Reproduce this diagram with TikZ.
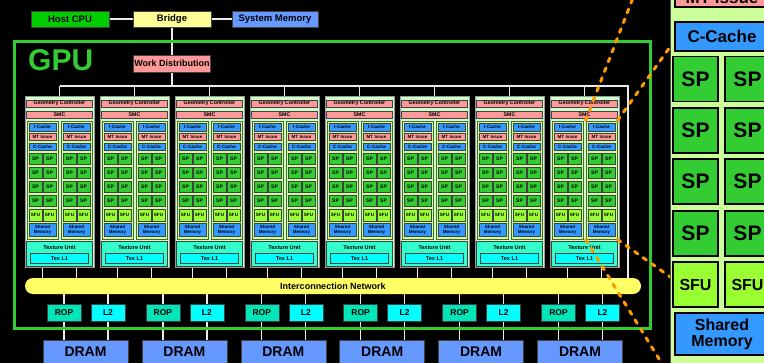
\documentclass[tikz,border=0pt]{standalone}
\usepackage{fontspec}
\setmainfont{Liberation Sans}
\usetikzlibrary{calc}
\newcommand\myfs[2]{\fontsize{#1}{#2}\selectfont}
\definecolor{gpugreen}{HTML}{33CC33}
\definecolor{hostgreen}{HTML}{00CC00}
\definecolor{bridgey}{HTML}{FFFF99}
\definecolor{memblue}{HTML}{6699FF}
\definecolor{pinkc}{HTML}{FF9999}
\definecolor{cblue}{HTML}{3399FF}
\definecolor{spgreen}{HTML}{33CC33}
\definecolor{sfugreen}{HTML}{99FF33}
\definecolor{clusterbg}{HTML}{CCFFCC}
\definecolor{smbg}{HTML}{CCFF99}
\definecolor{smborder}{HTML}{4D6633}
\definecolor{texc}{HTML}{33FFCC}
\definecolor{texl}{HTML}{00FFFF}
\definecolor{ropc}{HTML}{00E6B8}
\definecolor{netc}{HTML}{FFFF66}
\definecolor{dashor}{HTML}{FF9900}
\pgfdeclarelayer{back}
\pgfdeclarelayer{bg}
\pgfsetlayers{back,bg,main}
\tikzset{
  bx/.style={draw=black!75, line width=0.45pt, inner sep=0pt, align=center, text=black},
  topbox/.style={bx, line width=0.6pt, minimum height=16, font=\myfs{9.5}{11}\bfseries},
  clus/.style={draw=black!40, fill=clusterbg, line width=0.8pt, inner sep=0pt},
  smbox/.style={draw=smborder, fill=smbg, line width=0.8pt, inner sep=0pt, minimum width=31, minimum height=118},
  tiny/.style={bx, font=\myfs{4.6}{5}\bfseries},
  wire/.style={draw=white!92!black, line width=1.3pt},
  odash/.style={draw=dashor, line width=3pt, line cap=round, dash pattern=on 4pt off 6.5pt},
  pbx/.style={draw=black, line width=1.8pt, inner sep=0pt, align=center, text=black},
  membox/.style={bx, line width=0.6pt, minimum width=34, minimum height=17, font=\myfs{8.5}{10}\bfseries}
}
\begin{document}
\begin{tikzpicture}[x=1pt,y=-1pt]
\useasboundingbox (0,0) rectangle (764,362);
\begin{pgfonlayer}{back}
\fill[black] (-5,-20) rectangle (780,380);
\end{pgfonlayer}

% top row
\node[topbox, fill=hostgreen, minimum width=78] (host) at (70,19) {Host CPU};
\node[topbox, fill=bridgey, minimum width=78] (bridge) at (172,19) {Bridge};
\node[topbox, fill=memblue, minimum width=86] (sysmem) at (275,19) {System Memory};

% GPU frame
\node[draw=gpugreen, line width=3pt, minimum width=636, minimum height=287, inner sep=0pt] (gpu) at (332,184.5) {};
\node[text=gpugreen, font=\myfs{30}{32}\bfseries, anchor=base west, inner sep=0pt] (gpulbl) at (28,70) {GPU};

\node[topbox, fill=pinkc, minimum width=77, minimum height=17, font=\myfs{9}{10}\bfseries] (wd) at (172,63.5) {Work Distribution};

% interconnection network
\node[fill=netc, rounded corners=8pt, minimum width=616, minimum height=16, inner sep=0pt, font=\myfs{9}{10}\bfseries] (net) at (333,286) {Interconnection Network};

% memory partitions
\foreach \j in {0,...,5}{
  \pgfmathsetmacro\xr{47+98.9*\j}
  \node[membox, fill=ropc] (rop\j) at (\xr+17,312.5) {ROP};
  \node[membox, fill=texl] (ltwo\j) at (\xr+61,312.5) {L2};
  \node[bx, line width=0.6pt, fill=memblue, minimum width=85, minimum height=24, font=\myfs{14}{16}\bfseries] (dram\j) at (\xr+38.5,352) {DRAM};
}

% clusters
\foreach \i in {0,...,7}{
  \pgfmathsetmacro\xo{25+75*\i}
  \node[clus, minimum width=69, minimum height=171] (cl\i) at (\xo+34.5,181.5) {};
  \node[bx, fill=pinkc, minimum width=66, minimum height=7, font=\myfs{5.3}{6}\bfseries] (gc\i) at (\xo+34.5,103.5) {Geometry Controller};
  \node[bx, fill=pinkc, minimum width=66, minimum height=7, font=\myfs{5.3}{6}\bfseries] (smc\i) at (\xo+34.5,114.5) {SMC};
  \foreach \s/\off in {L/17.5,R/51.5}{
    \pgfmathsetmacro\sc{\xo+\off}
    \node[smbox] (sm\s\i) at (\sc,180) {};
    \node[tiny, fill=cblue, minimum width=27, minimum height=7.5] (ic\s\i) at (\sc,127) {I-Cache};
    \node[tiny, fill=pinkc, minimum width=27, minimum height=7.5] (mt\s\i) at (\sc,136.8) {MT Issue};
    \node[tiny, fill=cblue, minimum width=27, minimum height=7.5] (cc\s\i) at (\sc,146.6) {C-Cache};
    \foreach \r in {0,...,3}{
      \node[tiny, fill=spgreen, minimum width=13, minimum height=11.5, font=\myfs{5}{6}\bfseries] (sp\s\i a\r) at (\sc-7,158.5+14.1*\r) {SP};
      \node[tiny, fill=spgreen, minimum width=13, minimum height=11.5, font=\myfs{5}{6}\bfseries] (sp\s\i b\r) at (\sc+7,158.5+14.1*\r) {SP};
    }
    \node[tiny, fill=sfugreen, minimum width=13, minimum height=11.5] (sfu\s\i a) at (\sc-7,215) {SFU};
    \node[tiny, fill=sfugreen, minimum width=13, minimum height=11.5] (sfu\s\i b) at (\sc+7,215) {SFU};
    \node[tiny, fill=cblue, minimum width=27, minimum height=13, font=\myfs{4.5}{4.8}\bfseries] (shm\s\i) at (\sc,229.6) {Shared\\Memory};
  }
  \node[bx, fill=texc, minimum width=66, minimum height=25] (tu\i) at (\xo+34.5,253.5) {};
  \node[font=\myfs{5.6}{6}\bfseries, inner sep=0pt] (tut\i) at (\xo+34.5,247) {Texture Unit};
  \node[bx, fill=texl, minimum width=58, minimum height=10, font=\myfs{5.6}{6}\bfseries] (tl\i) at (\xo+34.5,258.5) {Tex L1};
}

% connectors
\coordinate (busL) at (59.5,86);
\coordinate (busR) at (628,86);
\begin{pgfonlayer}{bg}
\draw[wire] (host) -- (bridge);
\draw[wire] (bridge) -- (sysmem);
\draw[wire] (bridge) -- (wd);
\draw[wire] (wd.south) -- (wd.south |- busL);
\draw[wire] (busL) -- (busR) -- (busR |- net.north);
\foreach \i in {0,...,7}{
  \draw[wire] (cl\i.north) -- (cl\i.north |- busL);
  \draw[wire] (smL\i.south |- cl\i.south) -- (smL\i.south |- net.north);
  \draw[wire] (smR\i.south |- cl\i.south) -- (smR\i.south |- net.north);
}
\foreach \j in {0,...,5}{
  \draw[wire] (rop\j.center |- net.south) -- (rop\j.center |- dram\j.north);
  \draw[wire] (ltwo\j.center |- net.south) -- (ltwo\j.center |- dram\j.north);
}
\end{pgfonlayer}

% zoom lines
\coordinate (o1) at (636,-10);
\coordinate (o2) at (685,26);
\coordinate (o3) at (672,380);
\coordinate (o4) at (700,298);
\draw[odash] (smR7.north west) -- (o1);
\draw[odash] (smR7.north east) -- (o2);
\draw[odash] (smR7.south west) -- (o3);
\draw[odash] (smR7.south east) -- (o4);

% enlarged SM panel
\node[fill=smbg, draw=black!70, line width=1pt, minimum width=110, minimum height=390, inner sep=0pt, anchor=north west] (panel) at (670,-15) {};
\node[pbx, fill=pinkc, minimum width=94, minimum height=18, font=\myfs{17}{18}\bfseries] (bmt) at (722,-2) {MT Issue};
\node[pbx, fill=cblue, minimum width=94, minimum height=29, font=\myfs{17}{18}\bfseries] (bcc) at (722,36.5) {C-Cache};
\foreach \r/\yy in {0/79,1/130.5,2/181.5,3/233.5}{
  \node[pbx, fill=spgreen, minimum width=45, minimum height=45, font=\myfs{21}{22}\bfseries] (bspa\r) at (695.5,\yy) {SP};
  \node[pbx, fill=spgreen, minimum width=45, minimum height=45, font=\myfs{21}{22}\bfseries] (bspb\r) at (747.5,\yy) {SP};
}
\node[pbx, fill=sfugreen, minimum width=45, minimum height=45, font=\myfs{16}{18}\bfseries] (bsfua) at (695.5,284.5) {SFU};
\node[pbx, fill=sfugreen, minimum width=45, minimum height=45, font=\myfs{16}{18}\bfseries] (bsfub) at (747.5,284.5) {SFU};
\node[pbx, fill=cblue, minimum width=94, minimum height=42, font=\myfs{16}{16}\bfseries] (bshm) at (722,334) {Shared\\Memory};
\end{tikzpicture}
\end{document}
